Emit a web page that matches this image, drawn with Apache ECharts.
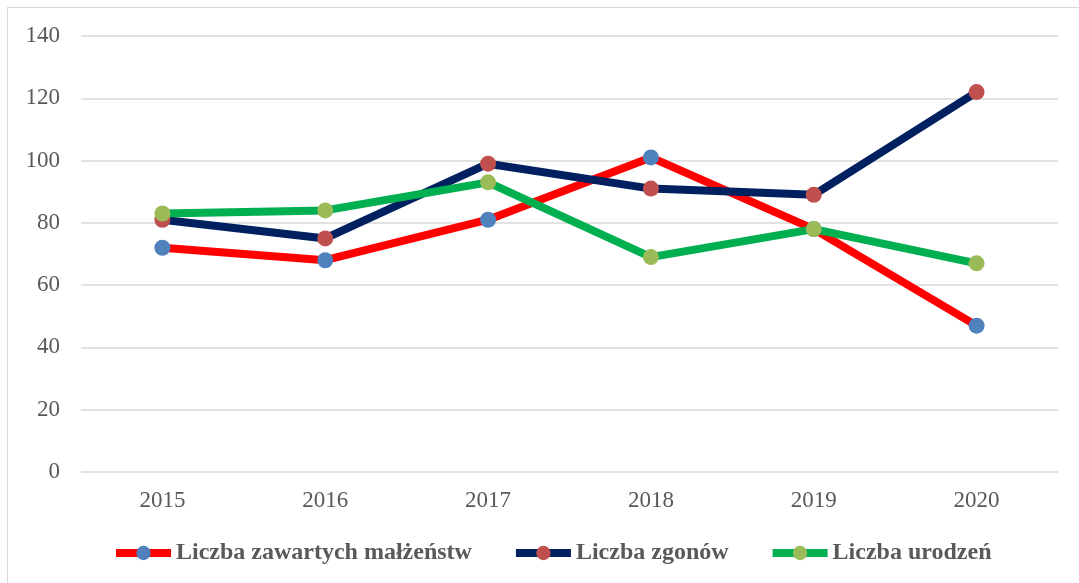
<!DOCTYPE html>
<html>
<head>
<meta charset="utf-8">
<script src="https://cdn.jsdelivr.net/npm/echarts@6/dist/echarts.min.js"></script>
<style>
  html, body { margin: 0; padding: 0; background: #fff; }
  #wrap { position: relative; width: 1079px; height: 583px; }
  #frame {
    position: absolute; left: 7px; top: 7px; right: 0; bottom: 0;
    border-left: 1px solid #d9d9d9; border-top: 1px solid #d9d9d9;
  }
  #chart { position: absolute; left: 0; top: 0; width: 1079px; height: 583px; }
</style>
</head>
<body>
<div id="wrap">
  <div id="frame"></div>
  <div id="chart"></div>
</div>
<script>
// dane
const years = ['2015', '2016', '2017', '2018', '2019', '2020'];
const malzenstwa = [72, 68, 81, 101, 78, 47];
const zgony = [81, 75, 99, 91, 89, 122];
const urodzenia = [83, 84, 93, 69, 78, 67];

const font = '"Liberation Serif", "Times New Roman", serif';
const txt = '#595959';

let myChart = echarts.init(document.getElementById('chart'));

function line(name, data, lineColor, dotColor) {
  return {
    name: name,
    type: 'line',
    data: data,
    symbol: 'circle',
    symbolSize: 16,
    lineStyle: { color: lineColor, width: 8 },
    itemStyle: { color: dotColor, borderWidth: 0 },
    emphasis: { disabled: true },
    animation: false
  };
}

var option = {
  backgroundColor: 'transparent',
  grid: { left: 81, right: 21, top: 36, bottom: 111 },
  legend: {
    bottom: 18,
    left: 112,
    padding: 0,
    itemWidth: 55,
    itemHeight: 18,
    itemGap: 40,
    lineStyle: { width: 8 },
    textStyle: { fontFamily: font, fontSize: 24, fontWeight: 'bold', color: txt },
    data: ['Liczba zawartych małżeństw', 'Liczba zgonów', 'Liczba urodzeń']
  },
  xAxis: {
    type: 'category',
    data: years,
    boundaryGap: true,
    axisLine: { show: false },
    axisTick: { show: false },
    axisLabel: { fontFamily: font, fontSize: 23, color: txt, margin: 17 }
  },
  yAxis: {
    type: 'value',
    min: 0,
    max: 140,
    interval: 20,
    axisLine: { show: false },
    axisTick: { show: false },
    axisLabel: { fontFamily: font, fontSize: 23, color: txt, margin: 21 },
    splitLine: { lineStyle: { color: '#d9d9d9', width: 1.5 } }
  },
  series: [
    line('Liczba zawartych małżeństw', malzenstwa, '#ff0000', '#4f81bd'),
    line('Liczba zgonów', zgony, '#002060', '#c0504d'),
    line('Liczba urodzeń', urodzenia, '#00b050', '#9bbb59')
  ]
};

myChart.setOption(option);
</script>
</body>
</html>
